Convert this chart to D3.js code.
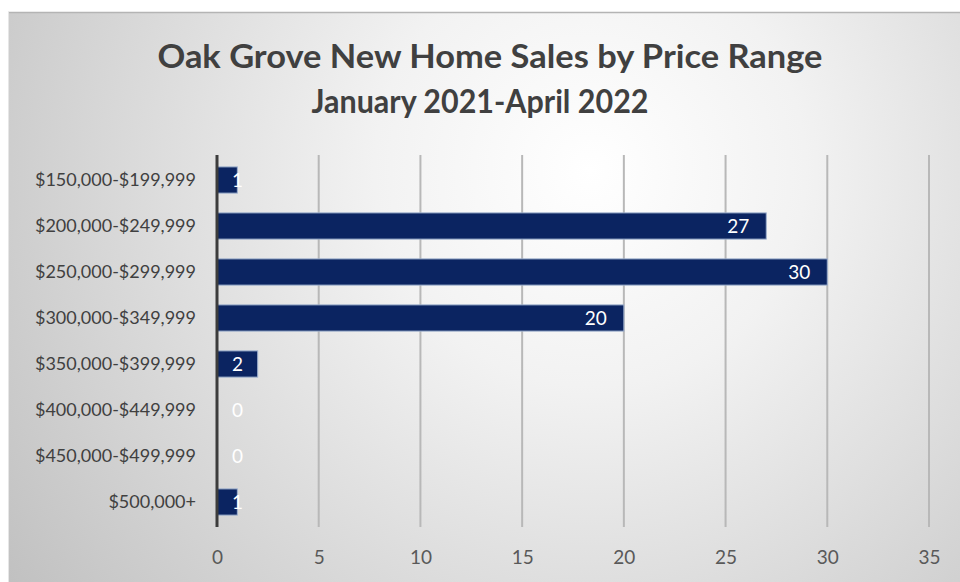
<!DOCTYPE html>
<html>
<head>
<meta charset="utf-8">
<script src="https://cdn.jsdelivr.net/npm/d3@7"></script>
<style>
  html, body { margin: 0; padding: 0; background: #ffffff; }
  svg { display: block; }
</style>
</head>
<body>
<svg id="chart" width="960" height="582"></svg>
<script>
// Price ranges and number of new homes sold in each
const priceRanges = [
  "$150,000-$199,999",
  "$200,000-$249,999",
  "$250,000-$299,999",
  "$300,000-$349,999",
  "$350,000-$399,999",
  "$400,000-$449,999",
  "$450,000-$499,999",
  "$500,000+"
];
const salesCounts = [1, 27, 30, 20, 2, 0, 0, 1];
const xTicks = [0, 5, 10, 15, 20, 25, 30, 35];
const titleLines = ["Oak Grove New Home Sales by Price Range", "January 2021-April 2022"];

const svg = d3.select("#chart");
const W = 960, H = 582;
const fontFamily = "Lato, 'Open Sans', 'DejaVu Sans', sans-serif";

// Background panel with a soft radial fill
const defs = svg.append("defs");
const grad = defs.append("radialGradient")
  .attr("id", "bgGrad")
  .attr("gradientUnits", "userSpaceOnUse")
  .attr("cx", 590).attr("cy", 170).attr("r", 720);
grad.append("stop").attr("offset", 0).attr("stop-color", "#ffffff");
grad.append("stop").attr("offset", 0.3).attr("stop-color", "#f2f2f2");
grad.append("stop").attr("offset", 1).attr("stop-color", "#c0c0c0");

svg.append("rect")
  .attr("x", 8).attr("y", 12)
  .attr("width", W - 8).attr("height", H - 12)
  .attr("fill", "url(#bgGrad)");
svg.append("line")
  .attr("x1", 8).attr("x2", W).attr("y1", 12.5).attr("y2", 12.5)
  .attr("stroke", "#b4b4b4").attr("stroke-width", 1.5);
svg.append("line")
  .attr("x1", 8.5).attr("x2", 8.5).attr("y1", 12).attr("y2", H)
  .attr("stroke", "#e6e6e6").attr("stroke-width", 1);

// Scales
const x = d3.scaleLinear().domain([0, 35]).range([217, 929]);
const y = d3.scaleBand()
  .domain(priceRanges)
  .range([157, 525])
  .paddingInner(0.43)
  .paddingOuter(0.215);

// Title, two centred lines
const titleX = [490, 480];
const titleW = [665, 337];
svg.append("g").selectAll("text")
  .data(titleLines)
  .join("text")
  .attr("x", (d, i) => titleX[i])
  .attr("y", (d, i) => 68 + i * 45)
  .attr("text-anchor", "middle")
  .attr("font-family", fontFamily)
  .attr("font-weight", 700)
  .attr("font-size", 33)
  .attr("textLength", (d, i) => titleW[i])
  .attr("lengthAdjust", "spacingAndGlyphs")
  .attr("fill", "#404040")
  .text(d => d);

// Vertical gridlines
svg.append("g").selectAll("line")
  .data(xTicks.filter(t => t > 0))
  .join("line")
  .attr("x1", d => x(d)).attr("x2", d => x(d))
  .attr("y1", 155).attr("y2", 527)
  .attr("stroke", "#b8b8b8")
  .attr("stroke-width", 2);

// Bottom axis: tick labels only
const xAxis = d3.axisBottom(x).tickValues(xTicks).tickSize(0).tickPadding(0);
const xg = svg.append("g").attr("transform", "translate(0,550)").call(xAxis);
xg.select(".domain").remove();
xg.selectAll("text")
  .attr("font-family", fontFamily)
  .attr("font-size", 19)
  .attr("fill", "#595959");

// Left axis: category labels only
const yAxis = d3.axisLeft(y).tickSize(0).tickPadding(0);
const yg = svg.append("g").attr("transform", "translate(196,0)").call(yAxis);
yg.select(".domain").remove();
yg.selectAll("text")
  .attr("font-family", fontFamily)
  .attr("font-size", 18)
  .attr("fill", "#404040");

// Bars
const rows = priceRanges.map((p, i) => ({ range: p, value: salesCounts[i] }));
svg.append("g").selectAll("rect")
  .data(rows.filter(d => d.value > 0))
  .join("rect")
  .attr("x", x(0))
  .attr("y", d => y(d.range))
  .attr("width", d => x(d.value) - x(0))
  .attr("height", y.bandwidth())
  .attr("fill", "#0b2461")
  .attr("stroke", "#9fb1cf")
  .attr("stroke-width", 1);

// Category axis line
svg.append("line")
  .attr("x1", x(0)).attr("x2", x(0))
  .attr("y1", 155).attr("y2", 527)
  .attr("stroke", "#3c3c3c")
  .attr("stroke-width", 3);

// Value labels at the inside end of each bar
const labels = svg.append("g").selectAll("text")
  .data(rows)
  .join("text")
  .attr("y", d => y(d.range) + y.bandwidth() / 2)
  .attr("dy", "0.36em")
  .attr("font-family", fontFamily)
  .attr("font-size", 19)
  .attr("fill", "#ffffff")
  .text(d => d.value);
labels.each(function(d) {
  const t = d3.select(this);
  const w = this.getComputedTextLength();
  const endX = x(d.value) - 17;
  const minStart = x(0) + 15;
  if (endX - w < minStart) {
    t.attr("text-anchor", "start").attr("x", minStart);
  } else {
    t.attr("text-anchor", "end").attr("x", endX);
  }
});
</script>
</body>
</html>
